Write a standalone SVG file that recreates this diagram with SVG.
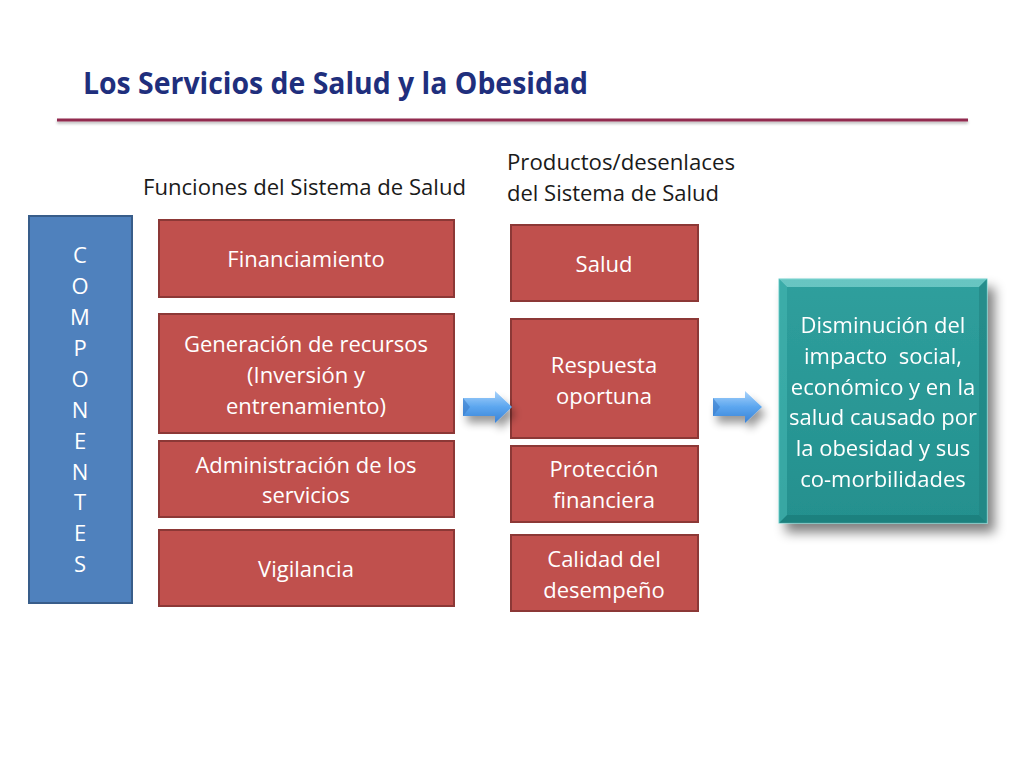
<svg xmlns="http://www.w3.org/2000/svg" width="1024" height="768" viewBox="0 0 1024 768">
<defs>
<style>
.t{font-family:"Open Sans","Noto Sans","Liberation Sans",sans-serif;font-size:22px;}
.h{font-family:"Open Sans","Noto Sans","Liberation Sans",sans-serif;font-size:21px;fill:#1a1a1a;}
.w{fill:#ffffff;text-anchor:middle;}
.red{fill:#c0504d;stroke:#8c3836;stroke-width:2;}
.blue{fill:#4f81bd;stroke:#385d8a;stroke-width:2;}
</style>
<linearGradient id="ag" x1="0" y1="0" x2="0" y2="1">
<stop offset="0" stop-color="#a9d3fb"/>
<stop offset="0.5" stop-color="#5ba6ef"/>
<stop offset="1" stop-color="#3b82d6"/>
</linearGradient>
<linearGradient id="tg" x1="0" y1="0" x2="0" y2="1">
<stop offset="0" stop-color="#2f9f9d"/>
<stop offset="1" stop-color="#24908e"/>
</linearGradient>
<filter id="sh" x="-20%" y="-20%" width="150%" height="150%">
<feGaussianBlur in="SourceAlpha" stdDeviation="6"/>
<feOffset dx="7" dy="9" result="b"/>
<feComponentTransfer><feFuncA type="linear" slope="0.5"/></feComponentTransfer>
<feMerge><feMergeNode/><feMergeNode in="SourceGraphic"/></feMerge>
</filter>
<filter id="ash" x="-30%" y="-50%" width="180%" height="250%">
<feGaussianBlur in="SourceAlpha" stdDeviation="4"/>
<feOffset dx="4" dy="7"/>
<feComponentTransfer><feFuncA type="linear" slope="0.4"/></feComponentTransfer>
<feMerge><feMergeNode/><feMergeNode in="SourceGraphic"/></feMerge>
</filter>
<filter id="lsh" filterUnits="userSpaceOnUse" x="40" y="105" width="950" height="30">
<feGaussianBlur in="SourceAlpha" stdDeviation="1.5"/>
<feOffset dx="0" dy="2"/>
<feComponentTransfer><feFuncA type="linear" slope="0.3"/></feComponentTransfer>
<feMerge><feMergeNode/><feMergeNode in="SourceGraphic"/></feMerge>
</filter>
</defs>
<rect width="1024" height="768" fill="#ffffff"/>

<g id="title">
<text x="83" y="94" font-family="'Open Sans','Liberation Sans',sans-serif" font-weight="bold" font-size="30" fill="#1f2f7d" textLength="505" lengthAdjust="spacingAndGlyphs">Los Servicios de Salud y la Obesidad</text>
<rect x="57" y="118.5" width="911" height="3" fill="#922a4f" filter="url(#lsh)"/>
</g>

<g id="headers">
<text class="h" x="143" y="195" textLength="323" lengthAdjust="spacingAndGlyphs">Funciones del Sistema de Salud</text>
<text class="h" x="507" y="170" textLength="228" lengthAdjust="spacingAndGlyphs">Productos/desenlaces</text>
<text class="h" x="507" y="201" textLength="212" lengthAdjust="spacingAndGlyphs">del Sistema de Salud</text>
</g>

<g id="componentes">
<rect class="blue" x="29" y="216" width="103" height="387"/>
<g class="t w">
<text x="80" y="263">C</text>
<text x="80" y="294">O</text>
<text x="80" y="325">M</text>
<text x="80" y="356">P</text>
<text x="80" y="387">O</text>
<text x="80" y="418">N</text>
<text x="80" y="449">E</text>
<text x="80" y="480">N</text>
<text x="80" y="510">T</text>
<text x="80" y="541">E</text>
<text x="80" y="572">S</text>
</g>
</g>

<g id="financiamiento">
<rect class="red" x="159" y="220" width="295" height="77"/>
<text class="t w" x="306" y="267">Financiamiento</text>
</g>
<g id="generacion">
<rect class="red" x="159" y="314" width="295" height="119"/>
<text class="t w" x="306" y="352">Generación de recursos</text>
<text class="t w" x="306" y="383">(Inversión y</text>
<text class="t w" x="306" y="414">entrenamiento)</text>
</g>
<g id="administracion">
<rect class="red" x="159" y="441" width="295" height="76"/>
<text class="t w" x="306" y="473">Administración de los</text>
<text class="t w" x="306" y="503">servicios</text>
</g>
<g id="vigilancia">
<rect class="red" x="159" y="530" width="295" height="76"/>
<text class="t w" x="306" y="577">Vigilancia</text>
</g>

<g id="salud">
<rect class="red" x="511" y="225" width="187" height="76"/>
<text class="t w" x="604" y="272">Salud</text>
</g>
<g id="respuesta">
<rect class="red" x="511" y="319" width="187" height="119"/>
<text class="t w" x="604" y="373">Respuesta</text>
<text class="t w" x="604" y="404">oportuna</text>
</g>
<g id="proteccion">
<rect class="red" x="511" y="446" width="187" height="76"/>
<text class="t w" x="604" y="477">Protección</text>
<text class="t w" x="604" y="508">financiera</text>
</g>
<g id="calidad">
<rect class="red" x="511" y="535" width="187" height="76"/>
<text class="t w" x="604" y="567">Calidad del</text>
<text class="t w" x="604" y="598">desempeño</text>
</g>

<g id="resultado" filter="url(#sh)">
<rect x="779" y="279" width="208" height="244" fill="url(#tg)" stroke="#6fd0cc" stroke-width="1"/>
<polygon points="779,279 987,279 979,287 787,287" fill="#7fd6d2" opacity="0.7"/>
<polygon points="779,523 987,523 979,515 787,515" fill="#1c7a78" opacity="0.7"/>
<polygon points="779,279 787,287 787,515 779,523" fill="#45b5b1" opacity="0.6"/>
<polygon points="987,279 979,287 979,515 987,523" fill="#1f8280" opacity="0.6"/>
<g class="t w">
<text x="883" y="333">Disminución del</text>
<text x="883" y="364">impacto&#160; social,</text>
<text x="883" y="395">económico y en la</text>
<text x="883" y="425">salud causado por</text>
<text x="883" y="456">la obesidad y sus</text>
<text x="883" y="487">co-morbilidades</text>
</g>
</g>

<g id="connectors">
<path d="M463,398 L495,398 L495,391 L512,407 L495,423 L495,416 L463,416 Z" fill="url(#ag)" filter="url(#ash)"/>
<path d="M463,398 L470,407 L463,416 Z" fill="#3a7cc9" opacity="0.6"/>
<path d="M713,398 L745,398 L745,391 L762,407 L745,423 L745,416 L713,416 Z" fill="url(#ag)" filter="url(#ash)"/>
<path d="M713,398 L720,407 L713,416 Z" fill="#3a7cc9" opacity="0.6"/>
</g>
</svg>
